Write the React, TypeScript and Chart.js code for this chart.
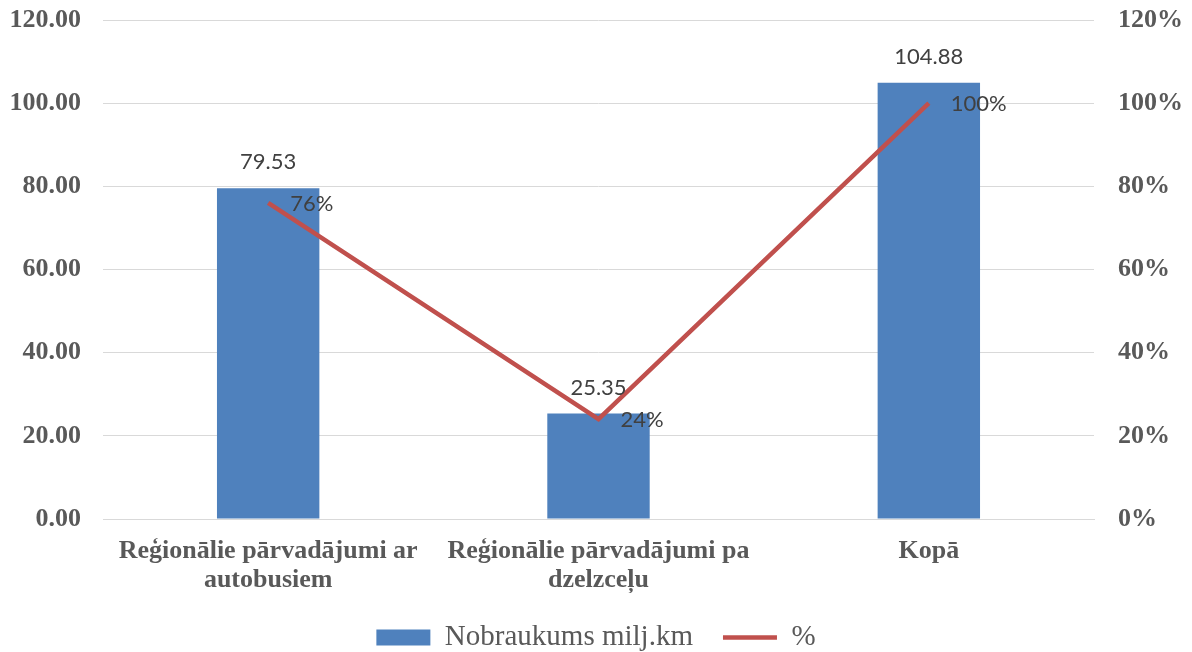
import React, { useEffect, useRef } from "react";
import { Chart, registerables } from "chart.js";

Chart.register(...registerables);

const categories: (string | string[])[] = [
  ["Reģionālie pārvadājumi ar", "autobusiem"],
  ["Reģionālie pārvadājumi pa", "dzelzceļu"],
  "Kopā",
];
const mileage: number[] = [79.53, 25.35, 104.88];
const percent: number[] = [76, 24, 100];
const barLabel = "Nobraukums milj.km";
const lineLabel = "%";

const BAR_COLOR = "#4F81BD";
const LINE_COLOR = "#C0504D";
const TEXT_COLOR = "#595959";
const LABEL_COLOR = "#404040";

const dataLabels = {
  id: "dataLabels",
  afterDatasetsDraw(chart: any) {
    const ctx = chart.ctx;
    ctx.save();
    ctx.font = "22px Lato";
    ctx.fillStyle = LABEL_COLOR;
    const barMeta = chart.getDatasetMeta(0);
    barMeta.data.forEach((el: any, i: number) => {
      ctx.textAlign = "center";
      ctx.textBaseline = "middle";
      ctx.fillText(mileage[i].toFixed(2), el.x, el.y - 26);
    });
    const lineMeta = chart.getDatasetMeta(1);
    lineMeta.data.forEach((el: any, i: number) => {
      ctx.textAlign = "left";
      ctx.textBaseline = "middle";
      ctx.fillText(Math.round(percent[i]) + "%", el.x + 22, el.y + 1);
    });
    ctx.restore();
  },
};

const noVPad = (s: any) => {
  s.paddingTop = 0;
  s.paddingBottom = 0;
};

export default function App() {
  const ref = useRef<HTMLCanvasElement | null>(null);
  useEffect(() => {
    if (!ref.current) return;
    const chart = new Chart(ref.current, {
      type: "bar",
      data: {
        labels: categories,
        datasets: [
          {
            type: "bar",
            label: barLabel,
            data: mileage,
            backgroundColor: BAR_COLOR,
            borderWidth: 0,
            yAxisID: "y",
            barPercentage: 0.31,
            categoryPercentage: 1,
            order: 2,
            pointStyle: "rect",
          } as any,
          {
            type: "line",
            label: lineLabel,
            data: percent,
            borderColor: LINE_COLOR,
            backgroundColor: LINE_COLOR,
            borderWidth: 4.5,
            pointRadius: 0,
            tension: 0,
            yAxisID: "y1",
            order: 1,
            pointStyle: "line",
          } as any,
        ],
      },
      options: {
        responsive: false,
        animation: false,
        layout: { padding: { top: 20, left: 0, right: 0, bottom: 0 } },
        plugins: {
          legend: {
            position: "bottom",
            labels: {
              usePointStyle: true,
              pointStyleWidth: 54,
              boxHeight: 16,
              color: TEXT_COLOR,
              font: { family: "Liberation Serif", size: 29 },
              padding: 30,
              sort: (a: any, b: any) => a.datasetIndex - b.datasetIndex,
            },
          },
          tooltip: { enabled: false },
        },
        scales: {
          x: {
            grid: { display: false, drawTicks: false },
            border: { display: true, color: "#D9D9D9", width: 1 },
            ticks: {
              color: TEXT_COLOR,
              font: { family: "Liberation Serif", size: 26, weight: "bold", lineHeight: 1.14 },
              padding: 17,
              maxRotation: 0,
              autoSkip: false,
            },
            afterFit: (s: any) => {
              s.height = 74;
            },
          },
          y: {
            position: "left",
            min: 0,
            max: 120,
            grid: { color: "#D9D9D9", drawTicks: false },
            border: { display: false },
            ticks: {
              stepSize: 20,
              color: TEXT_COLOR,
              font: { family: "Liberation Serif", size: 26, weight: "bold" },
              padding: 22,
              callback: (v: any) => Number(v).toFixed(2),
            },
            afterFit: (s: any) => {
              s.width = 103;
              noVPad(s);
            },
          },
          y1: {
            position: "right",
            min: 0,
            max: 120,
            grid: { display: false, drawTicks: false },
            border: { display: false },
            ticks: {
              stepSize: 20,
              color: TEXT_COLOR,
              font: { family: "Liberation Serif", size: 26, weight: "bold" },
              padding: 24,
              callback: (v: any) => v + "%",
            },
            afterFit: (s: any) => {
              s.width = 98;
              noVPad(s);
            },
          },
        },
      },
      plugins: [dataLabels],
    });
    return () => chart.destroy();
  }, []);
  return (
    <div
      style={{
        position: "absolute",
        left: 0,
        top: 0,
        width: 1192,
        height: 652,
        overflow: "hidden",
        background: "#fff",
      }}
    >
      <canvas ref={ref} width={1192} height={662} style={{ display: "block" }} />
    </div>
  );
}
